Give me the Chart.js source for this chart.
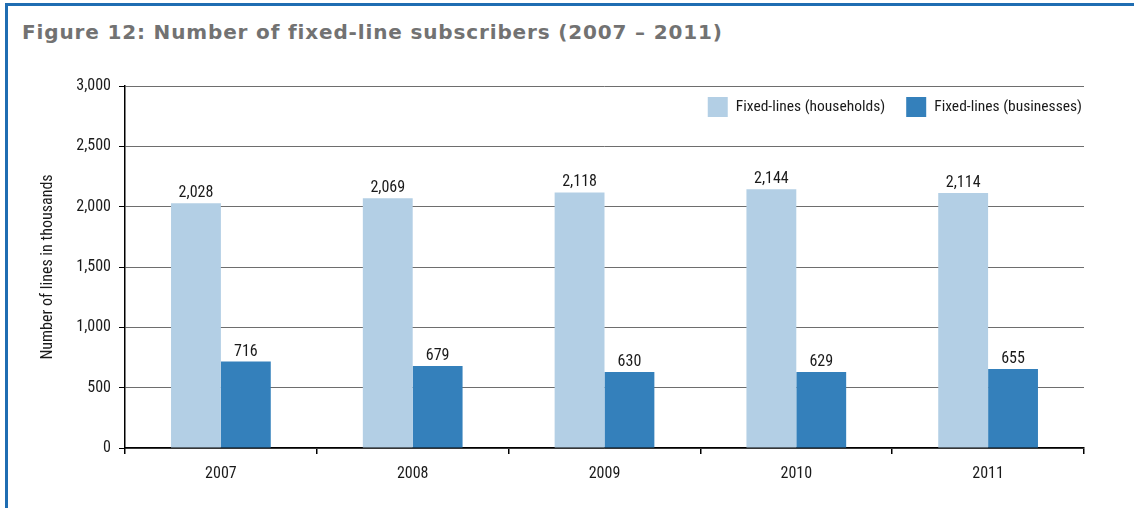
<!DOCTYPE html>
<html>
<head>
<meta charset="utf-8">
<script src="https://cdn.jsdelivr.net/npm/chart.js@4"></script>
<style>
  html, body { margin: 0; padding: 0; background: #fff; }
  body { width: 1134px; height: 508px; position: relative; overflow: hidden; }
  .ramka {
    position: absolute; left: 5px; top: 3px; right: 0; bottom: 0;
    border-top: 3px solid #1f6db2; border-left: 3px solid #1f6db2;
  }
  .antraste {
    position: absolute; left: 22px; top: 22px;
    font: bold 20px "DejaVu Sans", sans-serif;
    line-height: 20px; color: #727272; letter-spacing: 0.85px;
    white-space: nowrap;
  }
  #grafikas { position: absolute; left: 0; top: 0; }
</style>
</head>
<body>
<div class="ramka"></div>
<div class="antraste">Figure 12: Number of fixed-line subscribers (2007 – 2011)</div>
<canvas id="grafikas" width="1134" height="508"></canvas>
<script>
// metai ir abonentų skaičius (tūkst.)
const metai = ['2007', '2008', '2009', '2010', '2011'];
const namuUkiai = [2028, 2069, 2118, 2144, 2114];
const verslas = [716, 679, 630, 629, 655];
const yZymes = [0, 500, 1000, 1500, 2000, 2500, 3000];

const siauras = "'Liberation Sans Narrow', 'Roboto Condensed', 'Liberation Sans', sans-serif";

// reikšmės virš stulpelių
const reiksmiuPlugin = {
  id: 'reiksmes',
  afterDatasetsDraw(chart) {
    const ctx = chart.ctx;
    ctx.save();
    ctx.font = '16px ' + siauras;
    ctx.fillStyle = '#1a1a1a';
    ctx.textAlign = 'center';
    ctx.textBaseline = 'alphabetic';
    chart.data.datasets.forEach((ds, i) => {
      const meta = chart.getDatasetMeta(i);
      meta.data.forEach((bar, j) => {
        ctx.fillText(ds.data[j].toLocaleString('en-US'), bar.x, bar.y - 6);
      });
    });
    ctx.restore();
  }
};

// legenda viršutiniame dešiniame grafiko kampe
const legendosPlugin = {
  id: 'legenda',
  afterDraw(chart) {
    const ctx = chart.ctx;
    const ca = chart.chartArea;
    const dezute = 20, tarpas = 8, tarpPoru = 21;
    ctx.save();
    ctx.font = '15.5px ' + siauras;
    ctx.textBaseline = 'middle';
    ctx.textAlign = 'left';
    let x = ca.right - 2;
    const y = ca.top + 11;
    const ds = chart.data.datasets;
    for (let i = ds.length - 1; i >= 0; i--) {
      const w = ctx.measureText(ds[i].label).width;
      x -= w;
      ctx.fillStyle = '#1a1a1a';
      ctx.fillText(ds[i].label, x, y + dezute / 2);
      x -= tarpas + dezute;
      ctx.fillStyle = ds[i].backgroundColor;
      ctx.fillRect(x, y, dezute, dezute);
      x -= tarpPoru;
    }
    ctx.restore();
  }
};

new Chart(document.getElementById('grafikas'), {
  type: 'bar',
  data: {
    labels: metai,
    datasets: [
      { label: 'Fixed-lines (households)', data: namuUkiai, backgroundColor: '#b3cfe5' },
      { label: 'Fixed-lines (businesses)', data: verslas, backgroundColor: '#3480bb' }
    ]
  },
  options: {
    responsive: false,
    animation: false,
    layout: { padding: { top: 86, right: 50, bottom: 30, left: 0 } },
    datasets: { bar: { categoryPercentage: 0.52, barPercentage: 1 } },
    plugins: {
      tooltip: { enabled: false },
      legend: { display: false }
    },
    scales: {
      x: {
        afterFit(scale) { scale.height = 30; },
        grid: { drawOnChartArea: false, offset: true, tickLength: 6, tickColor: '#000', lineWidth: 1.5 },
        border: { color: '#000', width: 1.5 },
        ticks: { color: '#1a1a1a', padding: 10, font: { family: siauras, size: 16 } }
      },
      y: {
        min: 0,
        max: 3000,
        afterFit(scale) { scale.width = 125; },
        afterBuildTicks(scale) { scale.ticks = yZymes.map(v => ({ value: v })); },
        grid: { color: '#6e6e6e', lineWidth: 1, tickLength: 6, tickColor: '#000' },
        border: { color: '#000', width: 1.5 },
        title: {
          display: true,
          text: 'Number of lines in thousands',
          color: '#1a1a1a',
          padding: { top: 38, bottom: 0 },
          font: { family: siauras, size: 16 }
        },
        ticks: {
          color: '#1a1a1a',
          padding: 8,
          font: { family: siauras, size: 16 },
          callback: v => v.toLocaleString('en-US')
        }
      }
    }
  },
  plugins: [reiksmiuPlugin, legendosPlugin]
});
</script>
</body>
</html>
